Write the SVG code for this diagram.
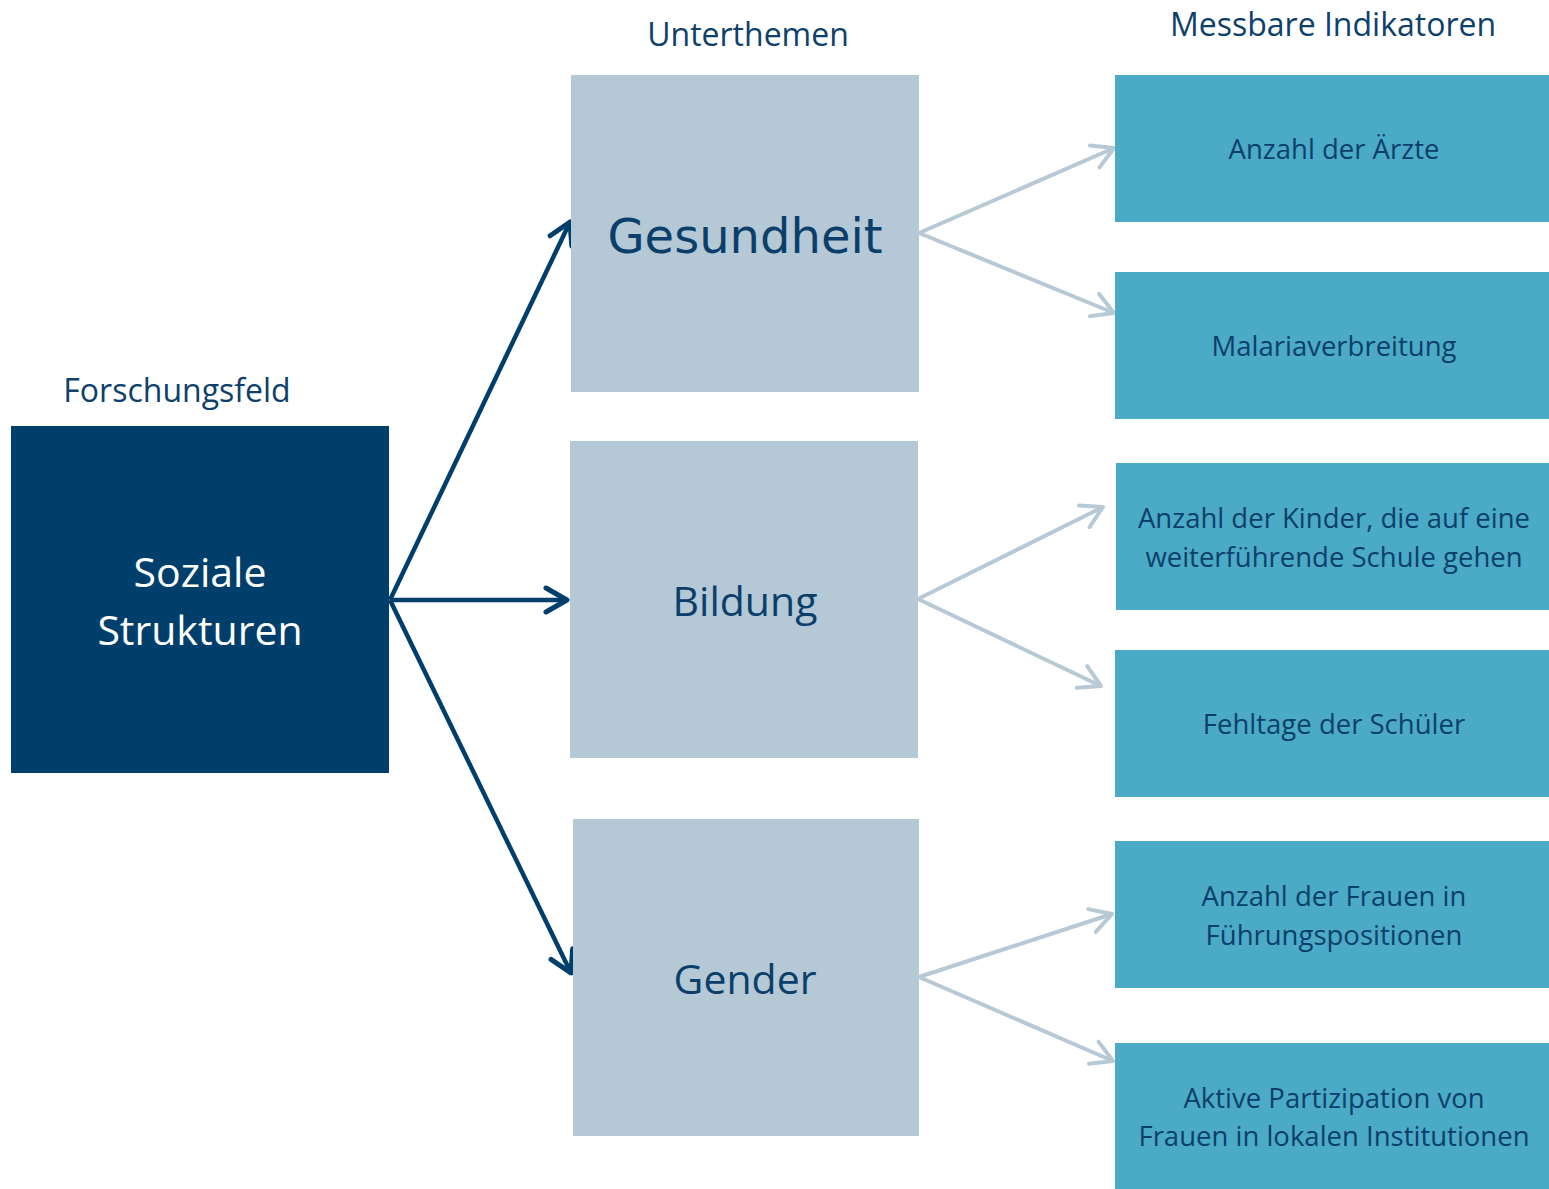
<svg xmlns="http://www.w3.org/2000/svg" width="1549" height="1189" viewBox="0 0 1549 1189">
<style>
.lbl{font-family:"Open Sans","Liberation Sans",sans-serif;font-size:32px;fill:#0D416B;text-anchor:middle}
.sub{fill:#B5C8D5}
.ind{fill:#4BABC6}
.t{font-family:"Open Sans","Liberation Sans",sans-serif;fill:#0B3F6B;text-anchor:middle}
.it{font-family:"Open Sans","Liberation Sans",sans-serif;font-size:27.5px;fill:#0B3F6B;text-anchor:middle}
.dk{stroke:#003F6B;stroke-width:4.5;fill:none}
.lt{stroke:#B8C9D6;stroke-width:4;fill:none}
</style>
<defs>
<marker id="ad" viewBox="-26 -15 30 30" refX="0" refY="0" markerWidth="30" markerHeight="30" markerUnits="userSpaceOnUse" orient="auto">
<path d="M-21,-12 L0,0 L-21,12" fill="none" stroke="#003F6B" stroke-width="5" stroke-linecap="round" stroke-linejoin="round"/>
</marker>
<marker id="al" viewBox="-26 -15 30 30" refX="0" refY="0" markerWidth="30" markerHeight="30" markerUnits="userSpaceOnUse" orient="auto">
<path d="M-21,-12 L0,0 L-21,12" fill="none" stroke="#B8C9D6" stroke-width="4" stroke-linecap="round" stroke-linejoin="round"/>
</marker>
</defs>
<rect width="1549" height="1189" fill="#FFFFFF"/>
<text class="lbl" x="177" y="402">Forschungsfeld</text>
<text class="lbl" x="748" y="46">Unterthemen</text>
<text class="lbl" x="1333" y="36">Messbare Indikatoren</text>
<g id="connectors">
<line class="dk" x1="390" y1="600" x2="570" y2="222" marker-end="url(#ad)"/>
<line class="dk" x1="390" y1="600" x2="567" y2="600" marker-end="url(#ad)"/>
<line class="dk" x1="390" y1="600" x2="571" y2="973" marker-end="url(#ad)"/>
<line class="lt" x1="919" y1="233" x2="1114" y2="148" marker-end="url(#al)"/>
<line class="lt" x1="919" y1="233" x2="1114" y2="313" marker-end="url(#al)"/>
<line class="lt" x1="918" y1="599" x2="1103" y2="507" marker-end="url(#al)"/>
<line class="lt" x1="918" y1="599" x2="1101" y2="686" marker-end="url(#al)"/>
<line class="lt" x1="919" y1="977" x2="1112" y2="914" marker-end="url(#al)"/>
<line class="lt" x1="919" y1="977" x2="1113" y2="1061" marker-end="url(#al)"/>
</g>
<g id="soziale">
<rect x="11" y="426" width="378" height="347" fill="#003F6B"/>
<text class="t" x="200" y="587" font-size="41" style="fill:#FFFFFF">Soziale</text>
<text class="t" x="200" y="645" font-size="41" style="fill:#FFFFFF">Strukturen</text>
</g>
<g id="gesundheit">
<rect class="sub" x="571" y="75" width="348" height="317"/>
<text x="745" y="253" font-family="DejaVu Sans,Verdana,sans-serif" font-size="48" fill="#0B3F6B" text-anchor="middle">Gesundheit</text>
</g>
<g id="bildung">
<rect class="sub" x="570" y="441" width="348" height="317"/>
<text class="t" x="745" y="616" font-size="41">Bildung</text>
</g>
<g id="gender">
<rect class="sub" x="573" y="819" width="346" height="317"/>
<text class="t" x="745" y="994" font-size="41">Gender</text>
</g>
<g id="aerzte">
<rect class="ind" x="1115" y="75" width="434" height="147"/>
<text class="it" x="1334" y="159">Anzahl der Ärzte</text>
</g>
<g id="malaria">
<rect class="ind" x="1115" y="272" width="434" height="147"/>
<text class="it" x="1334" y="356">Malariaverbreitung</text>
</g>
<g id="kinder">
<rect class="ind" x="1116" y="463" width="433" height="147"/>
<text class="it" x="1334" y="528">Anzahl der Kinder, die auf eine</text>
<text class="it" x="1334" y="567">weiterführende Schule gehen</text>
</g>
<g id="fehltage">
<rect class="ind" x="1115" y="650" width="434" height="147"/>
<text class="it" x="1334" y="734">Fehltage der Schüler</text>
</g>
<g id="frauen">
<rect class="ind" x="1115" y="841" width="434" height="147"/>
<text class="it" x="1334" y="906">Anzahl der Frauen in</text>
<text class="it" x="1334" y="945">Führungspositionen</text>
</g>
<g id="partizipation">
<rect class="ind" x="1115" y="1043" width="434" height="146"/>
<text class="it" x="1334" y="1108">Aktive Partizipation von</text>
<text class="it" x="1334" y="1146">Frauen in lokalen Institutionen</text>
</g>
</svg>
